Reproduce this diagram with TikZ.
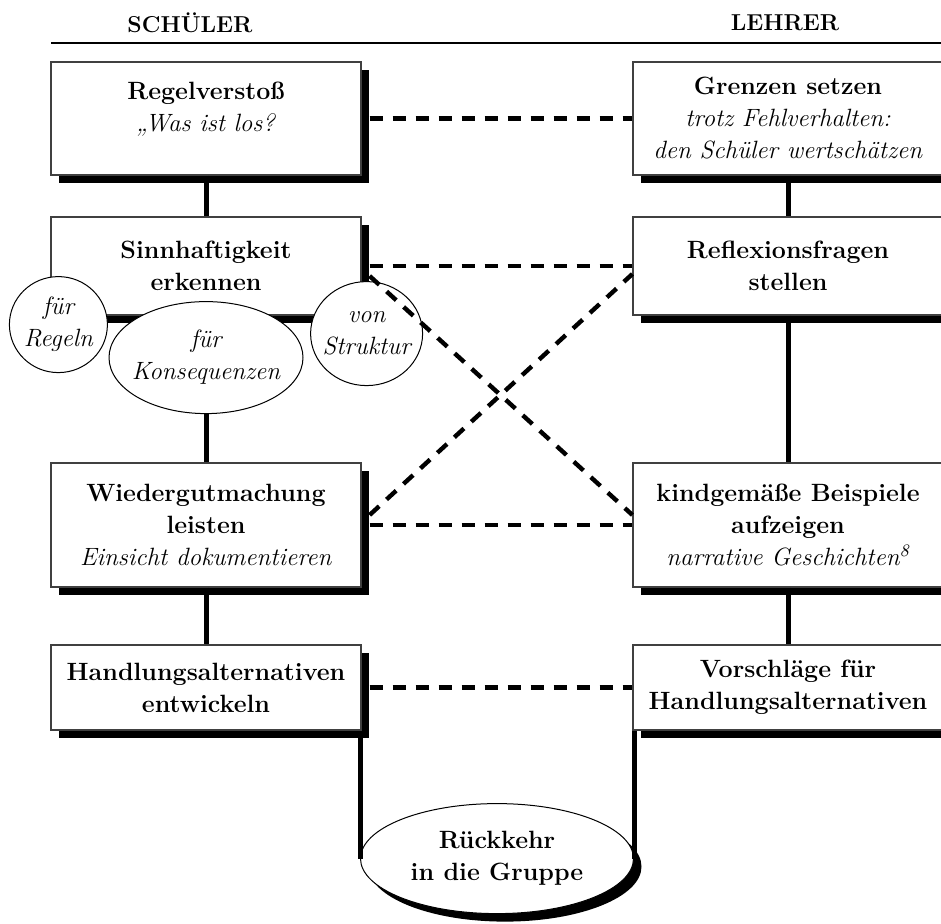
\documentclass[tikz,border=0pt]{standalone}
\usepackage{tikz}
\usetikzlibrary{calc,positioning,shapes,shapes.geometric,shadows}
\newcommand{\boxfont}{\fontsize{12.5}{16}\selectfont}
\tikzset{%
	block/.style    = {draw=black!75, fill=white, rectangle, line width=0.6pt, minimum width=155pt, align=center, inner sep=2pt, font=\boxfont, drop shadow={shadow xshift=4pt, shadow yshift=-4pt, fill=black, opacity=1}}, % Step
	bubble/.style   = {draw=black, fill=white, ellipse, line width=0.5pt, align=center, inner xsep=-4pt, inner ysep=0pt, font=\boxfont\itshape}, % Aspect
	goal/.style     = {draw=black, fill=white, ellipse, line width=0.5pt, align=center, inner sep=0pt, font=\boxfont\bfseries, drop shadow={shadow xshift=4pt, shadow yshift=-4pt, fill=black, opacity=1}}, % End
	head/.style     = {font=\fontsize{11.5}{14}\selectfont\bfseries},
	link/.style     = {line width=2.5pt},
	pair/.style     = {line width=2.2pt, dash pattern=on 6.5pt off 5pt},
}

\begin{document}
\begin{tikzpicture}[x=0.5pt,y=0.5pt]
	\useasboundingbox (0,0) rectangle (941,-924);
	\node [head] (schueler) at (190,-23) {SCHÜLER};
	\node [head] (lehrer) at (785,-23) {LEHRER};
	\coordinate (rulel) at (51,-43);
	\coordinate (ruler) at (941,-43);
	\draw[line width=0.6pt] (rulel) -- (ruler);
	
	\node [block,minimum height=56.5pt] (regel) at (206,-118.5) {\textbf{Regelverstoß}\\\textit{„Was ist los?}\\[-4pt]\mbox{}};
	\node [block,minimum height=49pt] (sinn) [below of=regel,node distance=73.75pt] {\textbf{Sinnhaftigkeit}\\\textbf{erkennen}};
	\node [block,minimum height=62pt] (wieder) [below of=sinn,node distance=129.5pt] {\textbf{Wiedergutmachung}\\\textbf{leisten}\\\textit{Einsicht dokumentieren}};
	\node [block,minimum height=42.5pt] (handl) [below of=wieder,node distance=81.25pt] {\textbf{Handlungsalternativen}\\\textbf{entwickeln}};
	
	\node [block,minimum height=56.5pt] (grenzen) [right of=regel,node distance=291pt] {\textbf{Grenzen setzen}\\\textit{trotz Fehlverhalten:}\\\textit{den Schüler wertschätzen}};
	\node [block,minimum height=49pt] (reflex) [right of=sinn,node distance=291pt] {\textbf{Reflexionsfragen}\\\textbf{stellen}};
	\node [block,minimum height=62pt] (beispiel) [right of=wieder,node distance=291pt] {\textbf{kindgemäße Beispiele}\\\textbf{aufzeigen}\\\textit{narrative Geschichten\textsuperscript{8}}};
	\node [block,minimum height=42.5pt] (vorschlag) [right of=handl,node distance=291pt] {\textbf{Vorschläge für}\\\textbf{Handlungsalternativen}};
	
	\node [bubble,minimum width=49pt,minimum height=48pt] (regeln) at ($(sinn.south west)+(8,-9)$) {für\\Regeln};
	\node [bubble,minimum width=97pt,minimum height=56pt] (konseq) at ($(sinn.south)+(0,-42)$) {für\\Konsequenzen};
	\node [bubble,minimum width=56pt,minimum height=52pt] (struktur) at ($(sinn.south east)+(5,-18)$) {von\\Struktur};
	
	\node [goal,minimum width=136.5pt,minimum height=55pt] (rueck) at ($(handl.south east)!0.5!(vorschlag.south west)+(0,-128)$) {Rückkehr\\in die Gruppe};
	
	\draw[link] (regel.south) -- (sinn.north);
	\draw[link] (konseq.south) -- (wieder.north);
	\draw[link] (wieder.south) -- (handl.north);
	\draw[link] (grenzen.south) -- (reflex.north);
	\draw[link] (reflex.south) -- (beispiel.north);
	\draw[link] (beispiel.south) -- (vorschlag.north);
	\draw[link] (rueck.west) -- (rueck.west |- handl.south);
	\draw[link] (rueck.east) -- (rueck.east |- vorschlag.south);
	
	\draw[pair] ($(regel.east)+(8,0)$) -- (grenzen.west);
	\draw[pair] ($(sinn.east)+(8,0)$) -- (reflex.west);
	\draw[pair] ($(sinn.east)+(8,-10)$) -- ($(beispiel.west)+(0,10)$);
	\draw[pair] ($(wieder.east)+(8,10)$) -- ($(reflex.west)+(0,-8)$);
	\draw[pair] ($(wieder.east)+(8,0)$) -- (beispiel.west);
	\draw[pair] ($(handl.east)+(8,0)$) -- (vorschlag.west);
\end{tikzpicture}
\end{document}
